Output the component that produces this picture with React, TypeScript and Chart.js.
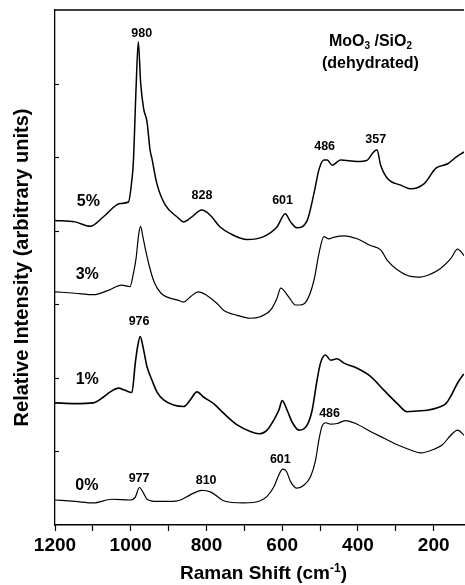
import { useEffect, useRef } from "react";
import { Chart, registerables } from "chart.js";

Chart.register(...registerables);

// ---- data (Raman shift in cm-1, relative intensity in arbitrary units, curves offset) ----
const shift0 = [1200,1147,1099,1050,1002,988,977,966,957,931,891,869,843,812,790,772,755,702,658,640,622,609,599,589,578,561,543,525,512,503,495,485,472,455,433,402,367,331,296,261,234,199,177,155,137,120];
const intensity0 = [0.34,0.32,0.30,0.35,0.34,0.38,0.51,0.43,0.35,0.32,0.32,0.34,0.41,0.47,0.45,0.39,0.33,0.30,0.33,0.39,0.52,0.68,0.76,0.73,0.59,0.50,0.54,0.66,0.88,1.16,1.34,1.39,1.37,1.38,1.42,1.37,1.27,1.18,1.09,1.02,0.98,1.03,1.09,1.22,1.29,1.22];

const shift1 = [1200,1147,1099,1072,1054,1032,1015,997,988,982,975,966,957,944,931,913,887,860,843,825,808,781,755,719,684,662,640,622,609,600,587,574,556,534,521,508,499,486,472,455,437,402,367,331,296,270,243,217,186,168,155,137,124,120];
const intensity1 = [1.66,1.65,1.66,1.74,1.81,1.86,1.83,1.80,2.20,2.42,2.56,2.38,2.15,1.97,1.81,1.70,1.63,1.61,1.70,1.81,1.74,1.65,1.52,1.36,1.27,1.24,1.29,1.43,1.56,1.69,1.56,1.40,1.29,1.36,1.56,1.97,2.20,2.31,2.24,2.26,2.20,2.13,2.02,1.83,1.65,1.54,1.55,1.56,1.60,1.65,1.75,1.93,2.03,2.05];

const shift3 = [1200,1147,1099,1059,1024,1002,993,986,979,974,968,960,950,938,920,900,878,860,843,821,799,772,755,719,684,658,631,614,604,583,565,552,534,516,503,490,477,464,437,402,367,340,323,296,261,234,208,181,155,137,124,120];
const intensity3 = [3.17,3.15,3.13,3.19,3.26,3.24,3.42,3.62,3.95,4.06,3.92,3.72,3.50,3.30,3.15,3.09,3.06,3.03,3.10,3.17,3.12,3.01,2.92,2.85,2.81,2.83,2.92,3.08,3.22,3.10,2.99,2.99,3.06,3.33,3.69,3.92,3.89,3.91,3.93,3.89,3.80,3.74,3.60,3.47,3.38,3.37,3.41,3.49,3.62,3.75,3.69,3.66];

const shift5 = [1200,1147,1107,1072,1028,1006,997,993,986,980,974,966,957,949,944,931,909,878,860,843,812,790,764,737,693,649,614,592,578,561,534,516,503,490,481,468,446,402,375,362,350,340,322,287,260,225,194,163,141,120];
const intensity5 = [4.14,4.12,4.06,4.19,4.37,4.39,4.69,4.94,5.93,6.57,6.02,5.66,5.48,5.10,4.98,4.64,4.35,4.19,4.12,4.17,4.28,4.21,4.05,3.96,3.88,3.92,4.05,4.23,4.12,4.04,4.14,4.51,4.83,4.96,4.96,4.89,4.96,4.94,4.96,5.05,5.10,4.89,4.71,4.62,4.57,4.64,4.85,4.91,5.00,5.07];

const xTickValues = [1200, 1100, 1000, 900, 800, 700, 600, 500, 400, 300, 200];
const xLabelledTicks = [1200, 1000, 800, 600, 400, 200];

const seriesNames = ["0%", "1%", "3%", "5%"];
const seriesLabelPos = [
  { x: 1116, y: 0.54 },
  { x: 1115, y: 1.98 },
  { x: 1115, y: 3.40 },
  { x: 1112, y: 4.39 },
];

const peakLabels = [
  { text: "980", x: 971, y: 6.68 },
  { text: "828", x: 812, y: 4.48 },
  { text: "601", x: 599, y: 4.41 },
  { text: "486", x: 488, y: 5.14 },
  { text: "357", x: 353, y: 5.24 },
  { text: "976", x: 978, y: 2.77 },
  { text: "486", x: 475, y: 1.52 },
  { text: "977", x: 978, y: 0.63 },
  { text: "810", x: 801, y: 0.61 },
  { text: "601", x: 605, y: 0.89 },
];

const FONT = '"Liberation Sans", Arial, Helvetica, sans-serif';

function drawSegments(ctx: CanvasRenderingContext2D, cx: number, cy: number, segs: { t: string; size: number; dy: number }[]) {
  let total = 0;
  const widths = segs.map((s) => {
    ctx.font = `bold ${s.size}px ${FONT}`;
    const w = ctx.measureText(s.t).width;
    total += w;
    return w;
  });
  let x = cx - total / 2;
  segs.forEach((s, i) => {
    ctx.font = `bold ${s.size}px ${FONT}`;
    ctx.textAlign = "left";
    ctx.fillText(s.t, x, cy + s.dy);
    x += widths[i];
  });
}

const decorPlugin = {
  id: "decor",
  afterDraw(chart: any) {
    const { ctx, chartArea, scales } = chart;
    const xs = scales.x;
    const ys = scales.y;
    ctx.save();
    ctx.strokeStyle = "#000";
    ctx.fillStyle = "#000";
    // top frame line
    ctx.lineWidth = 1.4;
    ctx.beginPath();
    ctx.moveTo(chartArea.left, chartArea.top);
    ctx.lineTo(chartArea.right, chartArea.top);
    ctx.stroke();
    // inward y ticks
    ctx.lineWidth = 1.1;
    ys.ticks.forEach((t: any) => {
      if (t.value <= ys.min || t.value >= ys.max) return;
      const py = Math.round(ys.getPixelForValue(t.value)) + 0.5;
      ctx.beginPath();
      ctx.moveTo(chartArea.left, py);
      ctx.lineTo(chartArea.left + 4, py);
      ctx.stroke();
    });
    // series labels
    ctx.textBaseline = "middle";
    ctx.textAlign = "center";
    ctx.font = `bold 16px ${FONT}`;
    seriesNames.forEach((name, i) => {
      const p = seriesLabelPos[i];
      ctx.fillText(name, xs.getPixelForValue(p.x), ys.getPixelForValue(p.y));
    });
    // peak labels
    ctx.font = `bold 12.5px ${FONT}`;
    peakLabels.forEach((p) => {
      ctx.fillText(p.text, xs.getPixelForValue(p.x), ys.getPixelForValue(p.y));
    });
    // sample title
    ctx.textBaseline = "alphabetic";
    const tx = xs.getPixelForValue(367);
    const t1 = ys.getPixelForValue(6.59) + 6;
    drawSegments(ctx, tx, t1, [
      { t: "MoO", size: 16, dy: 0 },
      { t: "3", size: 10, dy: 3 },
      { t: " /SiO", size: 16, dy: 0 },
      { t: "2", size: 10, dy: 3 },
    ]);
    ctx.font = `bold 16px ${FONT}`;
    ctx.textAlign = "center";
    ctx.fillText("(dehydrated)", tx, ys.getPixelForValue(6.29) + 6);
    // x axis title
    const cx = (chartArea.left + chartArea.right) / 2 + 4;
    drawSegments(ctx, cx, 579, [
      { t: "Raman Shift (cm", size: 19, dy: 0 },
      { t: "-1", size: 12, dy: -7 },
      { t: ")", size: 19, dy: 0 },
    ]);
    // y axis title
    ctx.save();
    ctx.translate(28, (chartArea.top + chartArea.bottom) / 2);
    ctx.rotate(-Math.PI / 2);
    ctx.textAlign = "center";
    ctx.textBaseline = "alphabetic";
    ctx.font = `bold 20px ${FONT}`;
    ctx.fillText("Relative Intensity (arbitrary units)", 0, 0);
    ctx.restore();
    ctx.restore();
  },
};

function toPoints(xs: number[], ys: number[]) {
  return xs.map((x, i) => ({ x, y: ys[i] }));
}

export default function App() {
  const canvasRef = useRef<HTMLCanvasElement | null>(null);

  useEffect(() => {
    const canvas = canvasRef.current;
    if (!canvas) return;
    const series = [
      { name: seriesNames[0], xs: shift0, ys: intensity0, w: 1.2 },
      { name: seriesNames[1], xs: shift1, ys: intensity1, w: 1.6 },
      { name: seriesNames[2], xs: shift3, ys: intensity3, w: 1.2 },
      { name: seriesNames[3], xs: shift5, ys: intensity5, w: 1.5 },
    ];
    const chart = new Chart(canvas, {
      type: "line",
      data: {
        datasets: series.map((s) => ({
          label: s.name,
          data: toPoints(s.xs, s.ys),
          borderColor: "#000",
          borderWidth: s.w,
          pointRadius: 0,
          fill: false,
          cubicInterpolationMode: "monotone" as const,
        })),
      },
      options: {
        responsive: false,
        animation: false,
        devicePixelRatio: 1,
        layout: { padding: { top: 10, right: 1, left: 0, bottom: 0 } },
        plugins: {
          legend: { display: false },
          tooltip: { enabled: false },
          title: { display: false },
        },
        scales: {
          x: {
            type: "linear",
            reverse: true,
            min: 120,
            max: 1200,
            afterBuildTicks: (s: any) => {
              s.ticks = xTickValues.map((v) => ({ value: v }));
            },
            afterFit: (s: any) => {
              s.height = 60;
            },
            ticks: {
              autoSkip: false,
              maxRotation: 0,
              minRotation: 0,
              padding: 3,
              color: "#000",
              font: { family: FONT, size: 19, weight: "bold" },
              callback: (v: any) => (xLabelledTicks.includes(Number(v)) ? String(v) : ""),
            },
            grid: {
              display: true,
              drawOnChartArea: false,
              drawTicks: true,
              tickLength: 6,
              tickWidth: 1.2,
              color: "#000",
            },
            border: { display: true, color: "#000", width: 1.6 },
          },
          y: {
            type: "linear",
            min: 0,
            max: 7,
            afterFit: (s: any) => {
              s.width = 55;
            },
            ticks: { display: false, stepSize: 1 },
            grid: { display: true, drawOnChartArea: false, drawTicks: false, color: "#000" },
            border: { display: true, color: "#000", width: 1.3 },
          },
        },
      } as any,
      plugins: [decorPlugin],
    });
    return () => chart.destroy();
  }, []);

  return (
    <div style={{ position: "absolute", left: 0, top: 0, width: 465, height: 585, background: "#fff" }}>
      <canvas ref={canvasRef} width={465} height={585} style={{ display: "block" }} />
    </div>
  );
}
